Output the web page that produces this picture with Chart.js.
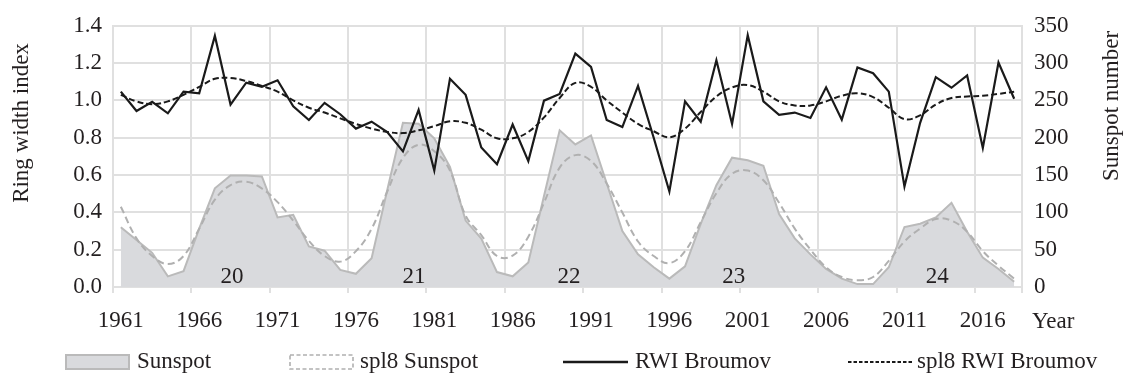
<!DOCTYPE html>
<html><head><meta charset="utf-8">
<script src="https://cdn.jsdelivr.net/npm/chart.js@4/dist/chart.umd.min.js"></script>
<style>
html,body{margin:0;padding:0;background:#fff;}
#wrap{position:relative;width:1126px;height:376px;overflow:hidden;}
canvas{position:absolute;left:0;top:0;}
.lg{position:absolute;font-family:'Liberation Serif',serif;font-size:23px;line-height:22px;color:#231f20;white-space:nowrap;}
.mk{position:absolute;}
</style></head>
<body><div id="wrap"><canvas id="c" width="1126" height="376"></canvas><div id="legend"></div></div>
<script>
const years = ['1961','1962','1963','1964','1965','1966','1967','1968','1969','1970',
 '1971','1972','1973','1974','1975','1976','1977','1978','1979','1980',
 '1981','1982','1983','1984','1985','1986','1987','1988','1989','1990',
 '1991','1992','1993','1994','1995','1996','1997','1998','1999','2000',
 '2001','2002','2003','2004','2005','2006','2007','2008','2009','2010',
 '2011','2012','2013','2014','2015','2016','2017','2018'];
const sunspot = [80, 63, 45.8, 14.3, 21.2, 78.2, 132.2, 149.5, 149.5, 148.2,
 93.3, 96.8, 54.4, 48.6, 22.9, 17.7, 38.5, 130, 220, 218.7,
 199, 161, 89, 65, 20, 14.3, 33, 122, 210, 191,
 203, 139, 75, 43.7, 26.4, 11.2, 27.6, 84.7, 136.5, 173.3,
 169.8, 162.4, 97.6, 65.2, 43.7, 24.2, 11.2, 3.9, 3.9, 26.4,
 80.4, 84.7, 93.3, 112.8, 73.9, 39.3, 24.2, 6.9];
const splSunspot = [107.6, 65.2, 41.5, 30.7, 41.5, 78.2, 117, 136.5, 141, 132,
 113.7, 89, 61.8, 41.5, 34, 48, 78, 128, 173, 190.6,
 182, 156, 95.5, 69.6, 41.5, 42, 67.4, 112.8, 160, 176.7,
 169, 138.7, 99.8, 61, 41.5, 32, 48, 86.9, 125.7, 151.7,
 156, 143, 112.8, 78.2, 50.2, 26.4, 13.4, 9.1, 13.4, 35,
 61, 78.2, 91, 89, 74, 48, 28.5, 11.2];
const rwi = [1.047, 0.943, 0.992, 0.931, 1.047, 1.038, 1.346, 0.978, 1.095, 1.073,
 1.108, 0.969, 0.895, 0.987, 0.926, 0.849, 0.886, 0.83, 0.727, 0.949,
 0.624, 1.116, 1.030, 0.748, 0.658, 0.871, 0.675, 0.999, 1.035, 1.251,
 1.180, 0.895, 0.857, 1.078, 0.80, 0.512, 0.995, 0.886, 1.215, 0.874,
 1.350, 0.995, 0.923, 0.935, 0.906, 1.070, 0.897, 1.177, 1.146, 1.047,
 0.538, 0.88, 1.125, 1.068, 1.134, 0.745, 1.203, 1.009];
const splRwi = [1.03, 0.995, 0.98, 0.995, 1.03, 1.073, 1.116, 1.12, 1.104, 1.078,
 1.047, 1.0, 0.961, 0.935, 0.904, 0.874, 0.849, 0.831, 0.825, 0.84,
 0.862, 0.888, 0.88, 0.843, 0.797, 0.797, 0.831, 0.909, 1.013, 1.094,
 1.073, 1.0, 0.935, 0.874, 0.835, 0.802, 0.849, 0.938, 1.021, 1.07,
 1.082, 1.047, 0.995, 0.973, 0.973, 0.995, 1.025, 1.038, 1.018, 0.961,
 0.9, 0.92, 0.978, 1.013, 1.021, 1.025, 1.035, 1.047];
const seriesNames = ['Sunspot', 'spl8 Sunspot', 'RWI Broumov', 'spl8 RWI Broumov'];
const leftTicks = [0, 0.2, 0.4, 0.6, 0.8, 1.0, 1.2, 1.4];
const rightTicks = [0, 50, 100, 150, 200, 250, 300, 350];
const cycleLabels = ['20', '21', '22', '23', '24'];
const cycleYears = [1968.1, 1979.7, 1989.6, 2000.1, 2013.1];
const axisTitles = {left: 'Ring width index', right: 'Sunspot number', x: 'Year'};

const FONT = "'Liberation Serif', serif";
const TXT = '#231f20';
const GRID = '#e0e0e0';
const FS = 23;

const extraText = {
  id: 'extraText',
  afterDraw(chart) {
    const {ctx, chartArea: ca} = chart;
    const x = chart.scales.x, y = chart.scales.y;
    ctx.save();
    ctx.font = FS + 'px ' + FONT;
    ctx.fillStyle = TXT;
    ctx.textAlign = 'center';
    ctx.textBaseline = 'alphabetic';
    cycleLabels.forEach((t, i) => {
      ctx.fillText(t, x.getPixelForValue(cycleYears[i] - 1961), y.getPixelForValue(0.02));
    });
    ctx.textAlign = 'left';
    ctx.fillText(axisTitles.x, ca.right + 10, ca.bottom + 41);
    ctx.textAlign = 'center';
    ctx.textBaseline = 'middle';
    ctx.save();
    ctx.translate(22, 123);
    ctx.rotate(-Math.PI / 2);
    ctx.fillText(axisTitles.left, 0, 0);
    ctx.restore();
    ctx.save();
    ctx.translate(1112, 106);
    ctx.rotate(-Math.PI / 2);
    ctx.fillText(axisTitles.right, 0, 0);
    ctx.restore();
    ctx.restore();
  }
};

const chart = new Chart(document.getElementById('c'), {
  type: 'line',
  data: {
    labels: years,
    datasets: [
      {label: seriesNames[2], data: rwi, yAxisID: 'y', borderColor: '#1a1a1a', borderWidth: 2.2, pointRadius: 0, tension: 0, order: 0, fill: false},
      {label: seriesNames[3], data: splRwi, yAxisID: 'y', borderColor: '#1a1a1a', borderWidth: 2, borderDash: [6, 3], pointRadius: 0, tension: 0.4, order: 1, fill: false},
      {label: seriesNames[1], data: splSunspot, yAxisID: 'y1', borderColor: '#b0b0b0', borderWidth: 2, borderDash: [7, 4], pointRadius: 0, tension: 0.4, order: 2, fill: false},
      {label: seriesNames[0], data: sunspot, yAxisID: 'y1', borderColor: '#bababa', backgroundColor: '#d9dadd', borderWidth: 2, pointRadius: 0, tension: 0, order: 3, fill: 'origin'}
    ]
  },
  options: {
    responsive: false,
    devicePixelRatio: 1,
    animation: false,
    layout: {padding: {top: 17, left: 0, right: 0, bottom: 0}},
    plugins: {legend: {display: false}, tooltip: {enabled: false}},
    scales: {
      x: {
        type: 'category',
        offset: true,
        grid: {
          offset: true,
          color: (c) => (c.index === undefined || c.index % 5 === 0) ? GRID : 'rgba(0,0,0,0)',
          lineWidth: 2,
          tickLength: 6,
          drawTicks: true
        },
        border: {display: true, color: GRID, width: 2},
        ticks: {
          autoSkip: false, maxRotation: 0, minRotation: 0, padding: 14,
          color: TXT, font: {family: FONT, size: FS},
          callback: function(v, i) { return i % 5 === 0 ? this.getLabelForValue(v) : ''; }
        },
        afterFit: (s) => { s.height = 89; }
      },
      y: {
        position: 'left', min: 0, max: 1.4,
        afterBuildTicks: (s) => { s.ticks = leftTicks.map(v => ({value: v})); },
        grid: {color: GRID, lineWidth: 2, drawTicks: false},
        border: {display: true, color: GRID, width: 2},
        ticks: {padding: 11, color: TXT, font: {family: FONT, size: FS}, callback: (v) => Number(v).toFixed(1)},
        afterFit: (s) => { s.width = 113; }
      },
      y1: {
        position: 'right', min: 0, max: 350,
        afterBuildTicks: (s) => { s.ticks = rightTicks.map(v => ({value: v})); },
        grid: {drawOnChartArea: false, drawTicks: false, color: GRID, lineWidth: 2},
        border: {display: true, color: GRID, width: 2},
        ticks: {padding: 12, color: TXT, font: {family: FONT, size: FS}, callback: (v) => String(v)},
        afterFit: (s) => { s.width = 104; }
      }
    }
  },
  plugins: [extraText]
});

const markers = {
  'Sunspot': '<svg width="65" height="16"><rect x="1" y="1" width="63" height="14" fill="#d9dadd" stroke="#bababa" stroke-width="2"/></svg>',
  'spl8 Sunspot': '<svg width="65" height="16"><rect x="1" y="1" width="63" height="14" fill="#ffffff" stroke="#b0b0b0" stroke-width="1.6" stroke-dasharray="4,2.5"/></svg>',
  'RWI Broumov': '<svg width="65" height="16"><line x1="0" y1="8" x2="65" y2="8" stroke="#1a1a1a" stroke-width="2.6"/></svg>',
  'spl8 RWI Broumov': '<svg width="65" height="16"><line x1="0" y1="8" x2="65" y2="8" stroke="#1a1a1a" stroke-width="1.8" stroke-dasharray="3.5,2"/></svg>'
};
const markerLeft = [65, 289, 563, 848];
const textLeft = [137, 360, 635, 917];
const lg = document.getElementById('legend');
seriesNames.forEach((n, i) => {
  const m = document.createElement('div');
  m.className = 'mk'; m.style.left = markerLeft[i] + 'px'; m.style.top = '354px';
  m.innerHTML = markers[n];
  lg.appendChild(m);
  const t = document.createElement('div');
  t.className = 'lg'; t.style.left = textLeft[i] + 'px'; t.style.top = '350px';
  t.textContent = n;
  lg.appendChild(t);
});
</script>
</body></html>
